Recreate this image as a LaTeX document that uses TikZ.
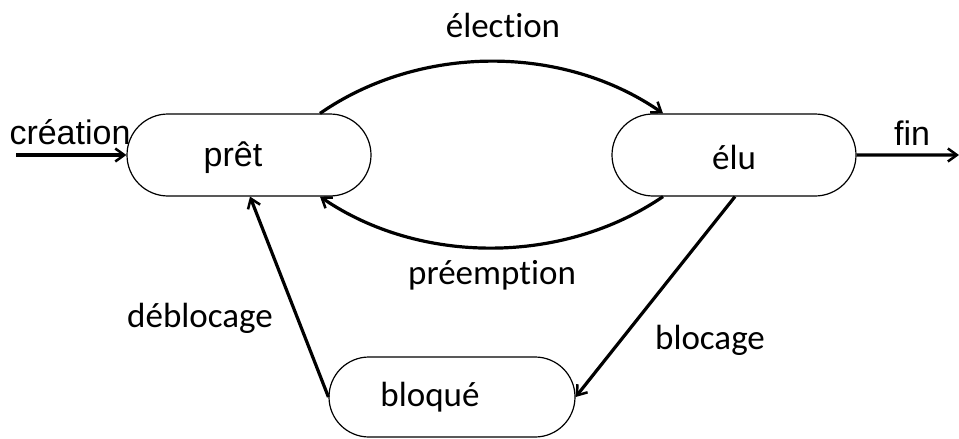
\documentclass[tikz,border=0pt]{standalone}
\usepackage{fontspec}
\setmainfont[Ligatures=NoCommon]{Carlito}
\newfontfamily\arialfont{Liberation Sans}
\usetikzlibrary{shapes.misc,arrows.meta}

\tikzset{
	etat/.style={draw, rounded rectangle, line width=1.2pt, minimum width=244pt, minimum height=82pt, inner sep=0pt},
	fleche/.style={line width=3.2pt, -{Straight Barb[length=9pt,width=13pt,line width=2.5pt]}},
	etiquette/.style={font=\fontsize{35}{40}\selectfont, inner sep=0pt},
	arial/.style={font=\arialfont\fontsize{34}{40}\selectfont}
}

\begin{document}
\begin{tikzpicture}[x=1pt,y=-1pt]
		\useasboundingbox (0,0) rectangle (959,439);
		
		% etats
		\node[etat, label={[etiquette, arial, xshift=-16pt, yshift=-3pt]center:prêt}] (pret) at (249,155) {};
		\node[etat, label={[etiquette, yshift=-2pt]center:élu}] (elu) at (734,155) {};
		\node[etat, minimum width=246pt, minimum height=80pt, label={[etiquette, xshift=-22pt]center:bloqué}] (bloque) at (452,397) {};
		
		\coordinate (entree) at (16,155);
		\coordinate (sortie) at (959,155);
		
		% transitions
		\draw[fleche](entree)--(pret);
		\draw[fleche](elu)--(sortie);
		
		\draw[fleche]([xshift=71pt]pret.north) .. controls (420,44) and (563,44) .. ([xshift=-71pt]elu.north);
		\draw[fleche]([xshift=-71pt]elu.south) .. controls (563,265) and (420,265) .. ([xshift=71pt]pret.south);
		
		\draw[fleche](bloque.west)--([xshift=1pt]pret.south);
		\draw[fleche]([xshift=1pt]elu.south)--(bloque.east);
		
		% textes
		\node[etiquette, arial] (tcreation) at (70,132){création};
		\node[etiquette, arial] (tfin) at (912,133){fin};
		\node[etiquette] (telection) at (503,25){élection};
		\node[etiquette] (tpreemption) at (492,275){préemption};
		\node[etiquette] (tdeblocage) at (200,318){déblocage};
		\node[etiquette] (tblocage) at (710,340){blocage};
		
\end{tikzpicture}
\end{document}
